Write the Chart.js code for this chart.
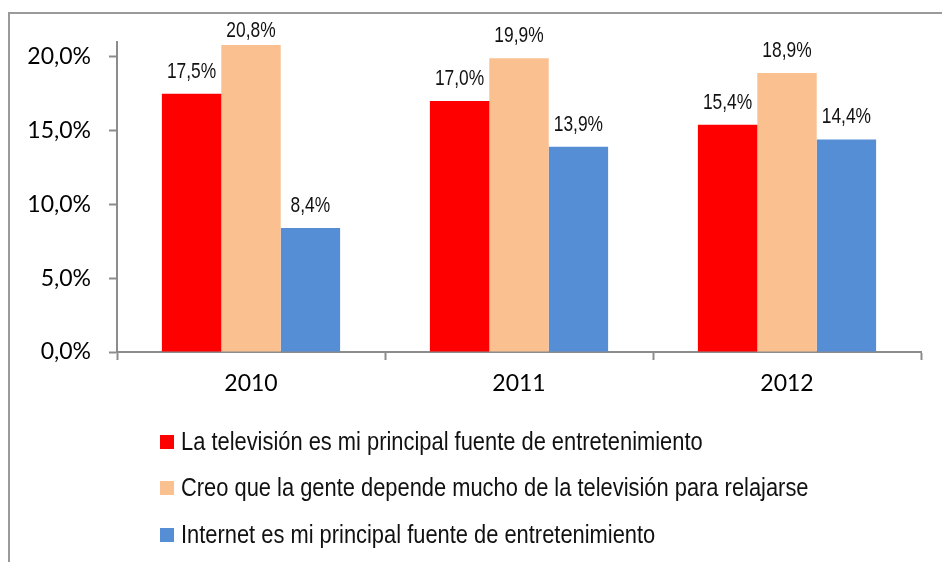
<!DOCTYPE html>
<html>
<head>
<meta charset="utf-8">
<script src="https://cdn.jsdelivr.net/npm/chart.js@4.4.0/dist/chart.umd.min.js"></script>
<style>
    html, body { margin: 0; padding: 0; background: #fff; }
    #wrap { width: 942px; height: 562px; position: relative; }
</style>
</head>
<body>
<div id="wrap"><canvas id="grafico"></canvas></div>
<script>
// Datos del gráfico
const anios = ['2010', '2011', '2012'];
const etiquetasSeries = [
    'La televisión es mi principal fuente de entretenimiento',
    'Creo que la gente depende mucho de la televisión para relajarse',
    'Internet es mi principal fuente de entretenimiento'
];
const tvPrincipal = [17.5, 17.0, 15.4];
const dependeTv = [20.8, 19.9, 18.9];
const internetPrincipal = [8.4, 13.9, 14.4];
const coloresSeries = ['#FF0000', '#FAC090', '#558ED5'];

const fmtPct = v => v.toFixed(1).replace('.', ',') + '%';
const fuenteArial = '"Liberation Sans", Arial, sans-serif';

// Texto "estrecho": Arial comprimida horizontalmente
function textoEstrecho(ctx, txt, x, y, escala) {
    ctx.save();
    ctx.translate(x, y);
    ctx.scale(escala, 1);
    ctx.fillText(txt, 0, 0);
    ctx.restore();
}

// Marco exterior (borde gris arriba y a la izquierda)
const marcoPlugin = {
    id: 'marco',
    beforeDraw(chart) {
        const ctx = chart.ctx;
        ctx.save();
        ctx.strokeStyle = '#9a9a9a';
        ctx.lineWidth = 2;
        ctx.beginPath();
        ctx.moveTo(9, chart.height);
        ctx.lineTo(9, 13);
        ctx.lineTo(chart.width, 13);
        ctx.stroke();
        ctx.restore();
    }
};

// Etiquetas de valor encima de cada barra
const etiquetasPlugin = {
    id: 'etiquetas',
    afterDatasetsDraw(chart) {
        const ctx = chart.ctx;
        ctx.save();
        ctx.font = '22px ' + fuenteArial;
        ctx.fillStyle = '#111';
        ctx.textAlign = 'center';
        ctx.textBaseline = 'alphabetic';
        chart.data.datasets.forEach((ds, i) => {
            chart.getDatasetMeta(i).data.forEach((bar, j) => {
                const y = Math.max(bar.y - 16, 37);
                textoEstrecho(ctx, fmtPct(ds.data[j]), bar.x, y, 0.79);
            });
        });
        ctx.restore();
    }
};

// Leyenda vertical dibujada a mano
const leyendaPlugin = {
    id: 'leyendaVertical',
    afterDraw(chart) {
        const ctx = chart.ctx;
        ctx.save();
        ctx.font = '25px ' + fuenteArial;
        ctx.textAlign = 'left';
        ctx.textBaseline = 'alphabetic';
        const filas = [442, 488, 535];
        chart.data.datasets.forEach((ds, i) => {
            const yc = filas[i];
            ctx.fillStyle = ds.backgroundColor;
            ctx.fillRect(160, yc - 7, 14, 14);
            ctx.fillStyle = '#111';
            textoEstrecho(ctx, ds.label, 181, yc + 8, 0.875);
        });
        ctx.restore();
    }
};

const ctx = document.getElementById('grafico').getContext('2d');
const chart = new Chart(ctx, {
    type: 'bar',
    data: {
        labels: anios,
        datasets: [
            { label: etiquetasSeries[0], data: tvPrincipal, backgroundColor: coloresSeries[0] },
            { label: etiquetasSeries[1], data: dependeTv, backgroundColor: coloresSeries[1] },
            { label: etiquetasSeries[2], data: internetPrincipal, backgroundColor: coloresSeries[2] }
        ]
    },
    options: {
        responsive: true,
        maintainAspectRatio: false,
        animation: false,
        layout: { padding: { top: 42, right: 21, left: 0, bottom: 0 } },
        datasets: {
            bar: { categoryPercentage: 0.665, barPercentage: 1.0 }
        },
        plugins: {
            legend: { display: false },
            tooltip: { enabled: false }
        },
        scales: {
            x: {
                grid: {
                    drawOnChartArea: false,
                    drawTicks: true,
                    tickLength: 8,
                    tickWidth: 2,
                    color: '#8c8c8c',
                    offset: true
                },
                border: { display: true, color: '#8c8c8c', width: 2 },
                ticks: {
                    color: '#000',
                    padding: 10,
                    font: { family: 'Lato', size: 23 }
                },
                afterFit(scale) { scale.height = 210; }
            },
            y: {
                min: 0,
                max: 21,
                grid: {
                    drawOnChartArea: false,
                    drawTicks: true,
                    tickLength: 8,
                    tickWidth: 2,
                    color: '#8c8c8c'
                },
                border: { display: true, color: '#8c8c8c', width: 2 },
                ticks: {
                    stepSize: 5,
                    includeBounds: false,
                    color: '#000',
                    padding: 18,
                    font: { family: 'Lato', size: 23 },
                    callback: v => fmtPct(v)
                },
                afterFit(scale) { scale.width = 117; }
            }
        }
    },
    plugins: [marcoPlugin, etiquetasPlugin, leyendaPlugin]
});
</script>
</body>
</html>
